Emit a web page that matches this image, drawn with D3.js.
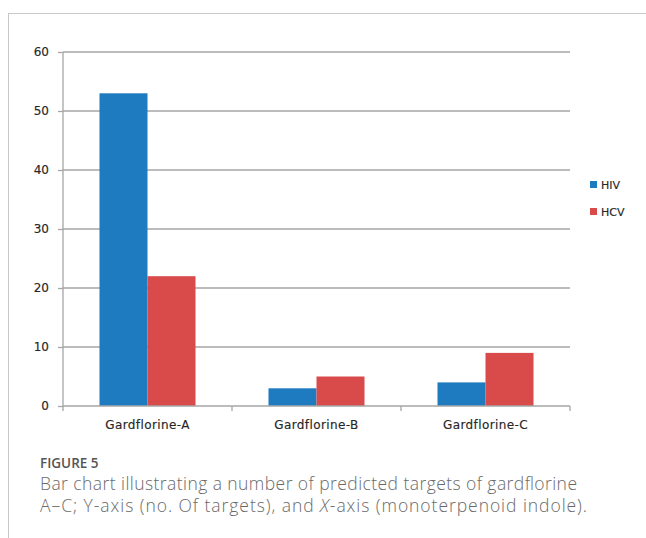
<!DOCTYPE html>
<html>
<head>
<meta charset="utf-8">
<script src="https://cdn.jsdelivr.net/npm/d3@7"></script>
<style>
  html, body { margin: 0; padding: 0; background: #fff; }
  svg { display: block; }
</style>
</head>
<body>
<svg id="chart" width="646" height="538"></svg>
<script>
const categories = ["Gardflorine-A", "Gardflorine-B", "Gardflorine-C"];
const seriesNames = ["HIV", "HCV"];
const hivValues = [53, 3, 4];
const hcvValues = [22, 5, 9];
const yTicks = [0, 10, 20, 30, 40, 50, 60];
const seriesColors = ["#1f7bc0", "#d94a4a"];

const svg = d3.select("#chart");
const axisFont = "'DejaVu Sans', Verdana, sans-serif";

// Frame lines on top and left
svg.append("line").attr("x1", 8).attr("x2", 646).attr("y1", 13.5).attr("y2", 13.5)
  .attr("stroke", "#c8c8c8").attr("stroke-width", 1);
svg.append("line").attr("x1", 8.5).attr("x2", 8.5).attr("y1", 13).attr("y2", 538)
  .attr("stroke", "#c8c8c8").attr("stroke-width", 1);

const plot = { left: 63, right: 570, top: 52, bottom: 406 };

const x0 = d3.scaleBand().domain(categories).range([plot.left, plot.right]).paddingInner(0).paddingOuter(0);
const x1 = d3.scaleBand().domain(seriesNames).range([0, x0.bandwidth()]).paddingInner(0).paddingOuter(0.76);
const y = d3.scaleLinear().domain([0, 60]).range([plot.bottom, plot.top]);

// Gridlines
svg.append("g").selectAll("line").data(yTicks.filter(d => d > 0)).join("line")
  .attr("x1", plot.left).attr("x2", plot.right)
  .attr("y1", d => y(d)).attr("y2", d => y(d))
  .attr("stroke", "#a6a6a6").attr("stroke-width", 1.3);

// Bars
const data = categories.map((c, i) => ({ cat: c, vals: [hivValues[i], hcvValues[i]] }));
const groups = svg.append("g").selectAll("g").data(data).join("g")
  .attr("transform", d => `translate(${x0(d.cat)},0)`);
groups.selectAll("rect").data(d => d.vals.map((v, j) => ({ name: seriesNames[j], v, j })))
  .join("rect")
  .attr("x", d => x1(d.name))
  .attr("width", x1.bandwidth())
  .attr("y", d => y(d.v))
  .attr("height", d => y(0) - y(d.v))
  .attr("fill", d => seriesColors[d.j]);

// Y axis
const yAxis = svg.append("g").attr("transform", `translate(${plot.left},0)`)
  .call(d3.axisLeft(y).tickValues(yTicks).tickSize(5).tickPadding(9).tickFormat(d3.format("d")));
yAxis.select(".domain").attr("stroke", "#a6a6a6").attr("stroke-width", 1.3)
  .attr("d", `M0,${plot.top}V${plot.bottom}`);
yAxis.selectAll(".tick line").attr("stroke", "#a6a6a6").attr("stroke-width", 1.3);
yAxis.selectAll(".tick text").attr("fill", "#262626")
  .style("font-family", axisFont).style("font-size", "12px")
  .attr("stroke", "#262626").attr("stroke-width", 0.15);

// X axis
const xTickPositions = [plot.left, ...categories.map(c => x0(c) + x0.bandwidth())];
const xAxisG = svg.append("g");
xAxisG.append("line").attr("x1", plot.left).attr("x2", plot.right)
  .attr("y1", plot.bottom).attr("y2", plot.bottom)
  .attr("stroke", "#a6a6a6").attr("stroke-width", 1.3);
xAxisG.selectAll(".xt").data(xTickPositions).join("line").attr("class", "xt")
  .attr("x1", d => d).attr("x2", d => d).attr("y1", plot.bottom).attr("y2", plot.bottom + 5)
  .attr("stroke", "#a6a6a6").attr("stroke-width", 1.3);
xAxisG.selectAll("text").data(categories).join("text")
  .attr("x", d => x0(d) + x0.bandwidth() / 2).attr("y", 429)
  .attr("text-anchor", "middle").attr("fill", "#262626")
  .attr("stroke", "#262626").attr("stroke-width", 0.15)
  .style("font-family", axisFont).style("font-size", "12px").style("letter-spacing", "0.4px")
  .text(d => d);

// Legend
const legend = svg.append("g").selectAll("g").data(seriesNames).join("g")
  .attr("transform", (d, i) => `translate(590,${181 + i * 27})`);
legend.append("rect").attr("width", 7).attr("height", 7).attr("fill", (d, i) => seriesColors[i]);
legend.append("text").attr("x", 11).attr("y", 7.5).attr("fill", "#262626")
  .attr("stroke", "#262626").attr("stroke-width", 0.15)
  .style("font-family", axisFont).style("font-size", "11px")
  .text(d => d);

// Caption
svg.append("text").attr("x", 40).attr("y", 468).attr("fill", "#555")
  .style("font-family", "'Open Sans', sans-serif").style("font-size", "13.5px").style("font-weight", 600)
  .text("FIGURE 5");
svg.append("text").attr("x", 40).attr("y", 490).attr("fill", "#6a6a6a")
  .attr("textLength", 537).attr("lengthAdjust", "spacing")
  .style("font-family", "'Open Sans', sans-serif").style("font-size", "17.5px").style("font-weight", 300)
  .text("Bar chart illustrating a number of predicted targets of gardflorine");
const line2 = svg.append("text").attr("x", 40).attr("y", 512).attr("fill", "#6a6a6a")
  .attr("textLength", 547).attr("lengthAdjust", "spacing")
  .style("font-family", "'Open Sans', sans-serif").style("font-size", "17.5px").style("font-weight", 300);
line2.append("tspan").text("A\u2013C; Y-axis (no. Of targets), and ");
line2.append("tspan").style("font-style", "italic").text("X");
line2.append("tspan").text("-axis (monoterpenoid indole).");
</script>
</body>
</html>
